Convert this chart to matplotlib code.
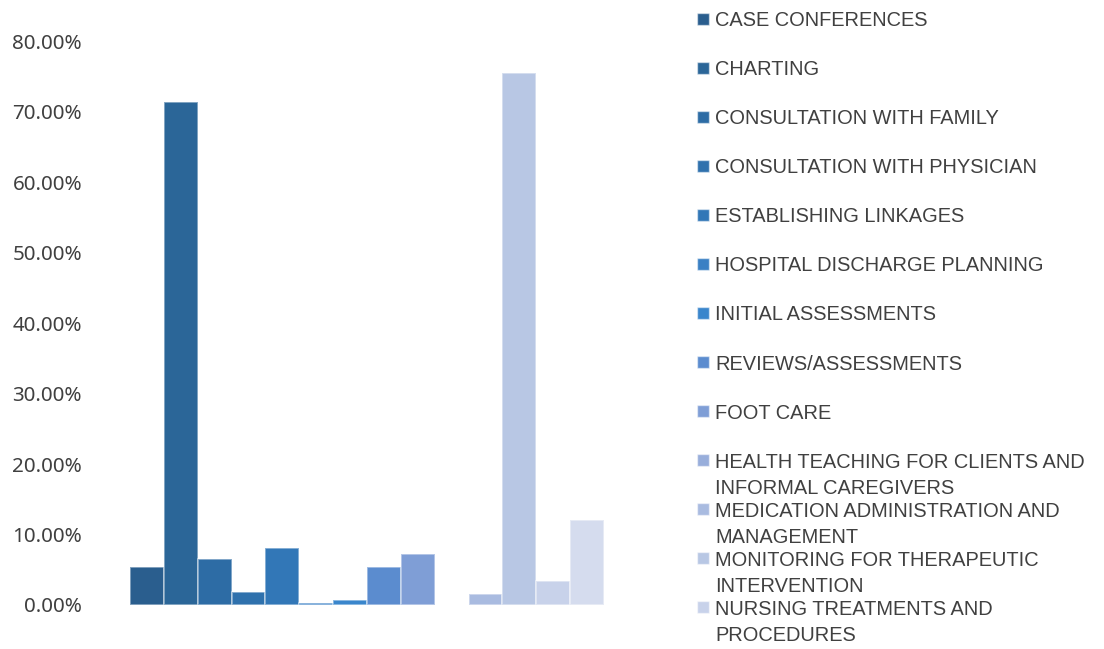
import textwrap
import matplotlib.pyplot as plt
from matplotlib.patches import Rectangle
from matplotlib.ticker import FuncFormatter

# share of time per nursing activity (%)
activities = [
    "CASE CONFERENCES",
    "CHARTING",
    "CONSULTATION WITH FAMILY",
    "CONSULTATION WITH PHYSICIAN",
    "ESTABLISHING LINKAGES",
    "HOSPITAL DISCHARGE PLANNING",
    "INITIAL ASSESSMENTS",
    "REVIEWS/ASSESSMENTS",
    "FOOT CARE",
    "HEALTH TEACHING FOR CLIENTS AND INFORMAL CAREGIVERS",
    "MEDICATION ADMINISTRATION AND MANAGEMENT",
    "MONITORING FOR THERAPEUTIC INTERVENTION",
    "NURSING TREATMENTS AND PROCEDURES",
    "",
]
shares = [5.35, 71.37, 6.49, 1.80, 8.05, 0.28, 0.67, 5.35, 7.20, 0.05,
          1.52, 75.48, 3.36, 12.07]
colors = ["#2a5e8e", "#2b6698", "#2d6ca5", "#2f71ad", "#3277b7", "#3a80c4",
          "#3a86cc", "#5b8ccf", "#7f9ed6", "#98aedb", "#a9bbe0", "#b8c7e4",
          "#c8d2ea", "#d5dcee"]
yticks = [0, 10, 20, 30, 40, 50, 60, 70, 80]

W, H = 1104, 649
fig = plt.figure(figsize=(W / 100, H / 100), dpi=100)
fig.patch.set_facecolor("white")

# plot area in pixels: bars run from x=130 to 604, 0% at y=605, 80% at y=41.5
x0, x1 = 130, 604
y0, y1 = 605, 41.5
ax = fig.add_axes([x0 / W, (H - y0) / H, (x1 - x0) / W, (y0 - y1) / H])

for i, (v, c) in enumerate(zip(shares, colors)):
    ax.bar(i, v, width=1.0, color=c, edgecolor=(1, 1, 1, 0.45), linewidth=1.3)

ax.set_xlim(-0.5, len(shares) - 0.5)
ax.set_ylim(0, 80)
ax.set_yticks(yticks)
ax.yaxis.set_major_formatter(FuncFormatter(lambda v, p: "%.2f%%" % v))
ax.tick_params(axis="y", length=0, pad=34.5, labelsize=14.8, labelcolor="#404040")
for lbl in ax.get_yticklabels():
    lbl.set_family("Noto Sans")
ax.set_xticks([])
for s in ax.spines.values():
    s.set_visible(False)

# legend drawn as a fixed-pitch column, as in the spreadsheet layout
lx, ly, pitch, lead = 697, 18.5, 49.08, 26
for i, name in enumerate(activities):
    if not name:
        continue
    yc = ly + i * pitch
    fig.add_artist(Rectangle((lx / W, (H - yc - 6) / H), 12 / W, 12 / H,
                             transform=fig.transFigure, facecolor=colors[i],
                             edgecolor=(1, 1, 1, 0.5), linewidth=1))
    for k, line in enumerate(textwrap.wrap(name, 31)):
        fig.text((lx + 18) / W, (H - yc - 7.5 - k * lead) / H, line,
                 ha="left", va="baseline", fontsize=14.4, color="#404040",
                 family="Liberation Sans")

fig.savefig("out.png", dpi=100, facecolor="white")
